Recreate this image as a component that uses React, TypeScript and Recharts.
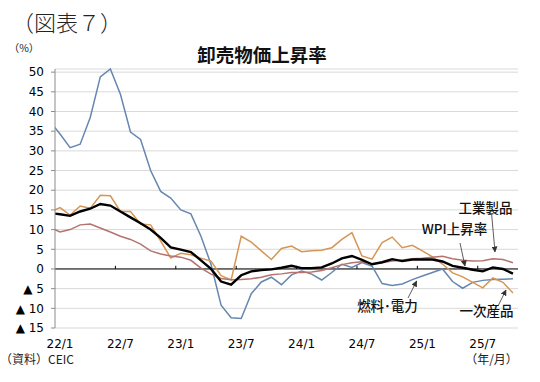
import React from "react";
import { LineChart, Line, XAxis, YAxis, CartesianGrid, ReferenceLine } from "recharts";

// Months (first one, 21/12, lies just left of the plot and is clipped at the axis)
const months = [
  "21/12",
  "22/1", "22/2", "22/3", "22/4", "22/5", "22/6", "22/7", "22/8", "22/9", "22/10", "22/11", "22/12",
  "23/1", "23/2", "23/3", "23/4", "23/5", "23/6", "23/7", "23/8", "23/9", "23/10", "23/11", "23/12",
  "24/1", "24/2", "24/3", "24/4", "24/5", "24/6", "24/7", "24/8", "24/9", "24/10", "24/11", "24/12",
  "25/1", "25/2", "25/3", "25/4", "25/5", "25/6", "25/7", "25/8", "25/9", "25/10",
];

const wpi = [14.2, 13.9, 13.5, 14.6, 15.3, 16.5, 16.1, 14.6, 13.1, 11.6, 10.0, 7.9, 5.5, 4.9, 4.3, 2.2, 0.0, -3.2, -4.0, -1.6, -0.6, -0.3, -0.1, 0.3, 0.8, 0.2, 0.2, 0.4, 1.4, 2.7, 3.3, 2.3, 1.2, 1.7, 2.5, 2.0, 2.4, 2.4, 2.4, 1.9, 0.8, 0.3, -0.2, -0.6, 0.4, 0.0, -1.2];
const fuelPower = [37.5, 34.3, 30.8, 31.7, 38.5, 48.8, 50.8, 44.4, 34.8, 32.9, 25.0, 19.7, 18.0, 15.0, 14.0, 8.3, 1.2, -9.2, -12.4, -12.6, -6.3, -3.3, -2.1, -4.0, -1.5, -0.5, -1.3, -2.8, -0.9, 1.2, 0.4, 1.6, 0.7, -3.7, -4.2, -3.8, -2.7, -1.8, -0.9, 0.0, -3.2, -4.9, -3.4, -2.9, -2.7, -2.6, -2.5];
const primary = [14.4, 15.6, 13.7, 16.0, 15.4, 18.7, 18.6, 14.6, 14.6, 11.4, 11.2, 7.1, 2.8, 4.0, 3.6, 2.7, 2.0, -1.7, -2.8, 8.3, 6.8, 4.6, 2.4, 5.2, 5.8, 4.4, 4.6, 4.75, 5.4, 7.5, 9.2, 3.3, 2.5, 6.7, 8.1, 5.4, 6.0, 4.6, 3.1, 1.25, -1.0, -2.0, -3.4, -4.8, -2.3, -3.4, -6.1];
const manufactured = [10.6, 9.4, 10.0, 11.2, 11.4, 10.4, 9.4, 8.3, 7.5, 6.3, 4.6, 3.8, 3.3, 3.0, 2.2, 0.2, -1.3, -2.4, -2.75, -2.7, -2.5, -2.1, -1.5, -1.25, -0.9, -0.9, -0.8, -0.4, 0.3, 1.1, 1.6, 1.8, 1.3, 1.6, 2.0, 2.3, 2.6, 2.75, 3.0, 3.2, 2.6, 2.2, 2.0, 2.1, 2.6, 2.4, 1.6];

const xTickLabels = ["22/1", "22/7", "23/1", "23/7", "24/1", "24/7", "25/1", "25/7"];
const xTicks = [0, 6, 12, 18, 24, 30, 36, 42];
const yTicks = [-15, -10, -5, 0, 5, 10, 15, 20, 25, 30, 35, 40, 45, 50];

const data = months.map((m, k) => ({
  i: k - 1,
  month: m,
  wpi: wpi[k],
  fuel: fuelPower[k],
  primary: primary[k],
  manuf: manufactured[k],
}));

const COLORS = {
  fuel: "#6687b0",
  primary: "#d59655",
  manuf: "#b4736e",
  wpi: "#000000",
};

const tickFont = "'DejaVu Sans', 'Noto Sans CJK JP', sans-serif";
const jpFont = "'Noto Sans CJK JP', sans-serif";

const fmtY = (v: number) => (v < 0 ? `▲ ${Math.abs(v)}` : `${v}`);
const fmtX = (v: number) => xTickLabels[xTicks.indexOf(v)] ?? "";

export default function App() {
  return (
    <div style={{ position: "absolute", left: 0, top: 0, width: 540, height: 382, background: "#fff" }}>
      <LineChart
        width={540}
        height={382}
        data={data}
        margin={{ top: 69, right: 22, bottom: 24, left: 0 }}
      >
        <CartesianGrid vertical={false} stroke="#d9d9d9" strokeWidth={1} />
        <XAxis
          dataKey="i"
          type="number"
          domain={[-0.5, 45.5]}
          allowDataOverflow
          ticks={xTicks}
          interval={0}
          tickFormatter={fmtX}
          axisLine={false}
          tickLine={false}
          tickSize={0}
          tickMargin={11}
          height={30}
          tick={{ fontSize: 12, fill: "#000", fontFamily: tickFont }}
        />
        <YAxis
          domain={[-15, 50]}
          ticks={yTicks}
          interval={0}
          tickFormatter={fmtY}
          width={55}
          axisLine={{ stroke: "#8c8c8c" }}
          tickLine={{ stroke: "#8c8c8c" }}
          tickSize={4}
          tickMargin={7}
          tick={{ fontSize: 12, fill: "#000", fontFamily: tickFont }}
        />
        <ReferenceLine y={0} stroke="#000" strokeWidth={1} />
        {xTicks.slice(1).map((t) => (
          <ReferenceLine
            key={t}
            segment={[{ x: t - 0.5, y: 0 }, { x: t - 0.5, y: 0.8 }]}
            stroke="#000"
            strokeWidth={1}
          />
        ))}
        <Line type="linear" dataKey="fuel" stroke={COLORS.fuel} strokeWidth={1.5} dot={false} isAnimationActive={false} />
        <Line type="linear" dataKey="primary" stroke={COLORS.primary} strokeWidth={1.5} dot={false} isAnimationActive={false} />
        <Line type="linear" dataKey="manuf" stroke={COLORS.manuf} strokeWidth={1.5} dot={false} isAnimationActive={false} />
        <Line type="linear" dataKey="wpi" stroke={COLORS.wpi} strokeWidth={2.4} dot={false} isAnimationActive={false} />
      </LineChart>
      <svg
        width={540}
        height={382}
        style={{ position: "absolute", left: 0, top: 0, pointerEvents: "none" }}
      >
        <defs>
          <marker id="ah" markerUnits="userSpaceOnUse" markerWidth={6} markerHeight={6} refX={5.5} refY={3} orient="auto">
            <path d="M0,0 L6,3 L0,6 z" fill="#333" />
          </marker>
        </defs>
        <text x={12} y={31} fontSize={22} fontWeight={300} fontFamily={jpFont} fill="#222">（図表７）</text>
        <text x={24} y={52} fontSize={10.5} fontFamily={jpFont} fill="#222" textAnchor="middle">（%）</text>
        <text x={262} y={62} fontSize={18.5} fontWeight={700} fontFamily={jpFont} fill="#111" textAnchor="middle">卸売物価上昇率</text>
        <text x={0} y={364} fontSize={12} fontFamily={jpFont} fill="#222">（資料）CEIC</text>
        <text x={491.5} y={363.5} fontSize={12} fontFamily={jpFont} fill="#222" textAnchor="middle">（年/月）</text>

        <text x={485.5} y={212.5} fontSize={13.5} fontWeight={500} fontFamily={jpFont} fill="#111" textAnchor="middle">工業製品</text>
        <text x={454.5} y={233.5} fontSize={13.5} fontWeight={500} fontFamily={jpFont} fill="#111" textAnchor="middle">WPI上昇率</text>
        <text x={387.5} y={310.5} fontSize={13.5} fontWeight={500} fontFamily={jpFont} fill="#111" textAnchor="middle">燃料･電力</text>
        <text x={486.5} y={315.5} fontSize={13.5} fontWeight={500} fontFamily={jpFont} fill="#111" textAnchor="middle">一次産品</text>

        <line x1={491.7} y1={215} x2={495} y2={252} stroke="#333" strokeWidth={0.8} markerEnd="url(#ah)" />
        <line x1={460} y1={243} x2={465} y2={266} stroke="#333" strokeWidth={0.8} markerEnd="url(#ah)" />
        <line x1={408} y1={298} x2={416.7} y2={281} stroke="#333" strokeWidth={0.8} markerEnd="url(#ah)" />
        <line x1={498} y1={306} x2={506} y2={290} stroke="#333" strokeWidth={0.8} markerEnd="url(#ah)" />
      </svg>
    </div>
  );
}
